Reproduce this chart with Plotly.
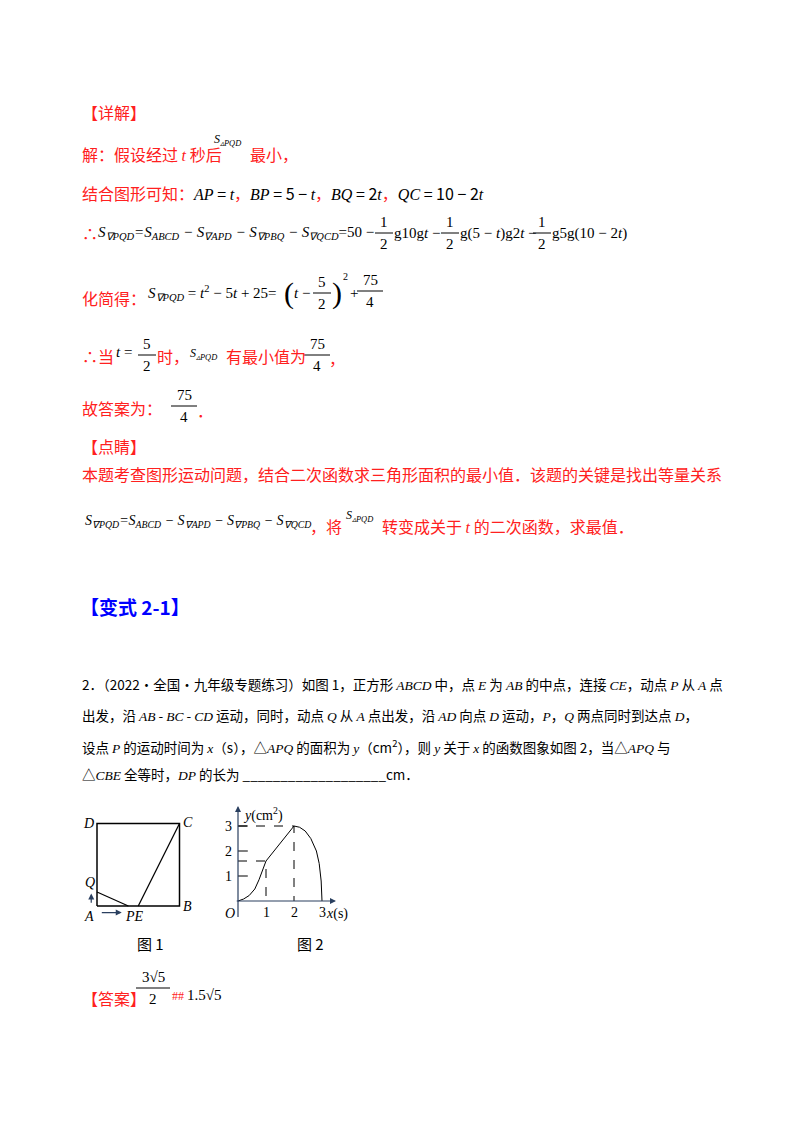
import plotly.graph_objects as go

RED = "#ff2020"
BLUE = "#0000ff"
CJK = "Noto Sans CJK SC"
SERIF = "Liberation Serif"

# figure 2: y (cm^2) against x (s)
curve_x = [0, 0.2, 0.4, 0.6, 0.75, 0.9, 1.0, 2.0, 2.2, 2.4, 2.6, 2.8, 2.9, 2.97, 3.0]
curve_y = [0, 0.08, 0.22, 0.48, 0.85, 1.3, 1.6, 3.0, 2.95, 2.8, 2.5, 2.0, 1.5, 0.8, 0]
x_ticks = [1, 2, 3]
y_ticks = [1, 2, 3]
knee = (1, 1.6)
peak = (2, 3)

# figure 1: unit square ABCD, E midpoint of AB, P on AB, Q on AD
pts = {"A": (0, 0), "B": (1, 0), "C": (1, 1), "D": (0, 1), "E": (0.5, 0), "P": (0.38, 0), "Q": (0, 0.17)}

fig = go.Figure()
ann = []


def txt(x, y, s, color="black", size=16, font=CJK, anchor="left", ref=("x", "y")):
    ann.append(dict(x=x, y=y, xref=ref[0], yref=ref[1], text=s, showarrow=False,
                    xanchor=anchor, yanchor="middle",
                    font=dict(family=font, size=size, color=color)))


def m(s):
    return f"<span style='font-family:{SERIF}'><i>{s}</i></span>"


def r(s):
    return f"<span style='color:{RED}'>{s}</span>"


def frac(x, y, num, den, size=15):
    txt(x, y - 11, num, size=size, font=SERIF, anchor="center")
    txt(x, y + 11, den, size=size, font=SERIF, anchor="center")
    w = 5 + 4 * len(num)
    fig.add_shape(type="line", x0=x - w, x1=x + w, y0=y, y1=y, line=dict(color="black", width=1))


S_PQD = "S<sub>∇PQD</sub>"
S_tri = "S<sub>▵PQD</sub>"
chain = ("S<sub>∇PQD</sub>=S<sub>ABCD</sub> − S<sub>∇APD</sub> − "
         "S<sub>∇PBQ</sub> − S<sub>∇QCD</sub>")

txt(72, 104, "【详解】", RED)
txt(72, 146, "解：假设经过 " + m("t") + r(" 秒后"), RED)
txt(204, 132, m(S_tri), size=12)
txt(240, 146, "最小，", RED)
txt(72, 185, "结合图形可知：" + "<span style='color:black'>" + m("AP") + " = " + m("t") + "</span>，"
    + "<span style='color:black'>" + m("BP") + " = 5 − " + m("t") + "</span>，"
    + "<span style='color:black'>" + m("BQ") + " = 2" + m("t") + "</span>，"
    + "<span style='color:black'>" + m("QC") + " = 10 − 2" + m("t") + "</span>", RED)

txt(72, 225, "∴", RED)
txt(88, 225, m(chain) + "=50 −", size=15, font=SERIF)
frac(376, 225, "1", "2")
txt(384, 225, "g10g" + m("t") + " −", size=15, font=SERIF)
frac(442, 225, "1", "2")
txt(450, 225, "g(5 − " + m("t") + ")g2" + m("t") + " −", size=15, font=SERIF)
frac(534, 225, "1", "2")
txt(542, 225, "g5g(10 − 2" + m("t") + ")", size=15, font=SERIF)

txt(72, 290, "化简得：", RED)
txt(138, 285, m(S_PQD) + " = " + m("t") + "<sup>2</sup> − 5" + m("t") + " + 25=", size=15, font=SERIF)
txt(274, 285, "(", size=30, font=SERIF)
txt(284, 285, m("t") + " −", size=15, font=SERIF)
frac(314, 285, "5", "2")
txt(322, 285, ")", size=30, font=SERIF)
txt(333, 268, "2", size=10, font=SERIF)
txt(340, 285, "+", size=15, font=SERIF)
frac(362, 283, "75", "4")

txt(72, 348, "∴当", RED)
txt(106, 344, m("t") + " =", size=15, font=SERIF)
frac(139, 347, "5", "2")
txt(147, 348, "时，", RED)
txt(180, 346, m(S_tri), size=12)
txt(216, 348, "有最小值为", RED)
frac(309, 347, "75", "4")
txt(319, 350, "，", RED)

txt(72, 400, "故答案为：", RED)
frac(176, 398, "75", "4")
txt(187, 402, "．", RED)

txt(72, 438, "【点睛】", RED)
txt(72, 466, "本题考查图形运动问题，结合二次函数求三角形面积的最小值．该题的关键是找出等量关系", RED)
txt(75, 513, m(chain), size=14, font=SERIF)
txt(300, 518, "，将", RED)
txt(336, 508, m(S_tri), size=12)
txt(372, 518, "转变成关于 " + m("t") + r(" 的二次函数，求最值．"), RED)

txt(70, 598, "<b>【变式 2-1】</b>", BLUE, size=19)

q_lines = [
    "2．（2022·全国·九年级专题练习）如图 1，正方形 " + m("ABCD") + " 中，点 " + m("E") + " 为 " + m("AB")
    + " 的中点，连接 " + m("CE") + "，动点 " + m("P") + " 从 " + m("A") + " 点",
    "出发，沿 " + m("AB") + " - " + m("BC") + " - " + m("CD") + " 运动，同时，动点 " + m("Q") + " 从 " + m("A")
    + " 点出发，沿 " + m("AD") + " 向点 " + m("D") + " 运动，" + m("P") + "，" + m("Q") + " 两点同时到达点 " + m("D") + "，",
    "设点 " + m("P") + " 的运动时间为 " + m("x") + "（s），△" + m("APQ") + " 的面积为 " + m("y")
    + "（cm<sup>2</sup>），则 " + m("y") + " 关于 " + m("x") + " 的函数图象如图 2，当△" + m("APQ") + " 与",
    "△" + m("CBE") + " 全等时，" + m("DP") + " 的长为 ___________________cm．",
]
for yy, s in zip([676, 707, 738, 766], q_lines):
    txt(72, yy, s, size=13.5)

txt(127, 935, "图 1", size=15)
txt(287, 935, "图 2", size=15)

txt(72, 990, "【答案】", RED)
frac(145, 980, "3√5", "2")
txt(162, 988, "##", RED, size=12, font=SERIF)
txt(177, 987, "1.5√5", size=15, font=SERIF)

# figure 1 drawing
sq = ["A", "B", "C", "D", "A"]
fig.add_trace(go.Scatter(x=[pts[k][0] for k in sq], y=[pts[k][1] for k in sq], mode="lines",
                         line=dict(color="black", width=1.5), xaxis="x3", yaxis="y3"))
for a, b in [("Q", "P"), ("C", "E")]:
    fig.add_trace(go.Scatter(x=[pts[a][0], pts[b][0]], y=[pts[a][1], pts[b][1]], mode="lines",
                             line=dict(color="black", width=1.2), xaxis="x3", yaxis="y3"))
for lab, (dx, dy) in {"D": (-0.1, 0), "C": (0.1, 0.01), "B": (0.1, 0.0), "A": (-0.1, -0.13),
                      "Q": (-0.09, 0.11)}.items():
    txt(pts[lab][0] + dx, pts[lab][1] + dy, "<i>" + lab + "</i>", size=14, font=SERIF,
        anchor="center", ref=("x3", "y3"))
txt(0.45, -0.13, "<i>PE</i>", size=14, font=SERIF, anchor="center", ref=("x3", "y3"))
ann.append(dict(x=0.3, y=-0.08, ax=0.04, ay=-0.08, xref="x3", yref="y3", axref="x3", ayref="y3",
                showarrow=True, arrowhead=2, arrowsize=1, arrowwidth=1.2, text=""))
ann.append(dict(x=-0.07, y=0.15, ax=-0.07, ay=0.02, xref="x3", yref="y3", axref="x3", ayref="y3",
                showarrow=True, arrowhead=2, arrowsize=1, arrowwidth=1.2, text=""))

# figure 2 drawing
fig.add_trace(go.Scatter(x=curve_x, y=curve_y, mode="lines", line=dict(color="black", width=1),
                         xaxis="x2", yaxis="y2"))
for px, py in [knee, peak]:
    fig.add_trace(go.Scatter(x=[0, px, px], y=[py, py, 0], mode="lines",
                             line=dict(color="black", width=1, dash="dash"), xaxis="x2", yaxis="y2"))
ann.append(dict(x=3.5, y=0, ax=-0.1, ay=0, xref="x2", yref="y2", axref="x2", ayref="y2",
                showarrow=True, arrowhead=2, arrowwidth=1.2, text=""))
ann.append(dict(x=0, y=3.8, ax=0, ay=-0.7, xref="x2", yref="y2", axref="x2", ayref="y2",
                showarrow=True, arrowhead=2, arrowwidth=1.2, text=""))
for v in y_ticks:
    fig.add_shape(type="line", x0=0, x1=0.35, y0=v, y1=v, xref="x2", yref="y2",
                  line=dict(color="black", width=1))
    txt(-0.35, v, str(v), size=14, font=SERIF, anchor="center", ref=("x2", "y2"))
for v in x_ticks:
    txt(v, -0.45, str(v), size=14, font=SERIF, anchor="center", ref=("x2", "y2"))
txt(-0.3, -0.5, "<i>O</i>", size=14, font=SERIF, anchor="center", ref=("x2", "y2"))
txt(3.55, -0.5, "<i>x</i>(s)", size=14, font=SERIF, anchor="center", ref=("x2", "y2"))
txt(0.9, 3.45, "<i>y</i>(cm<sup>2</sup>)", size=14, font=SERIF, anchor="center", ref=("x2", "y2"))

hid = dict(visible=False, showgrid=False, zeroline=False, fixedrange=True)
fig.update_layout(
    width=800, height=1132, margin=dict(l=0, r=0, t=0, b=0),
    paper_bgcolor="white", plot_bgcolor="rgba(0,0,0,0)", showlegend=False,
    xaxis=dict(range=[0, 800], domain=[0, 1], **hid),
    yaxis=dict(range=[1132, 0], domain=[0, 1], **hid),
    xaxis2=dict(range=[-0.5, 3.9], domain=[216 / 800, 339.2 / 800], **hid),
    yaxis2=dict(range=[-0.7, 3.9], domain=[1 - 910.5 / 1132, 1 - 795.5 / 1132], **hid),
    xaxis3=dict(range=[-0.4, 1.4], domain=[56 / 800, 204.5 / 800], **hid),
    yaxis3=dict(range=[-0.4, 1.3], domain=[1 - 931 / 1132, 1 - 790.75 / 1132], **hid),
    annotations=ann,
)
fig.write_html("out.html")
